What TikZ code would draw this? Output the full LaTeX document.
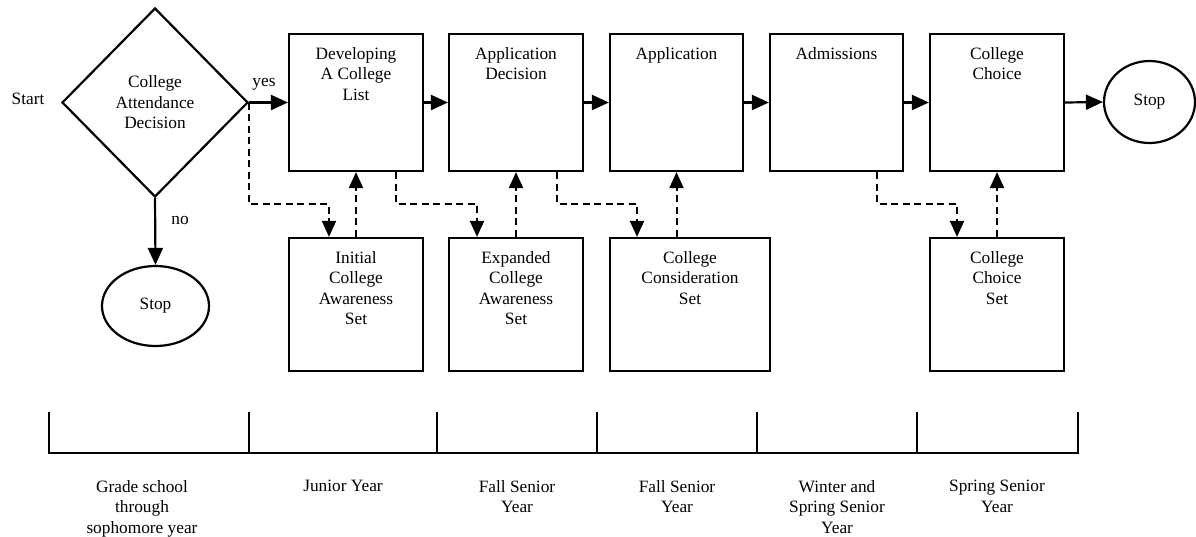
\documentclass[tikz,border=0pt]{standalone}
\usepackage{fontspec}
\setmainfont{Liberation Serif}
\usetikzlibrary{arrows.meta,shapes.geometric}
\begin{document}
\begin{tikzpicture}[x=1pt,y=-1pt,
  every node/.style={font=\fontsize{17.3}{20.5}\selectfont},
  stage/.style={draw, line width=2.2pt, inner sep=0pt, minimum width=134pt, minimum height=137pt},
  setbox/.style={draw, line width=2.2pt, inner sep=0pt, minimum width=134pt, minimum height=133pt},
  txt/.style={anchor=north, inner sep=0pt, align=center, yshift=-14pt},
  stopnode/.style={draw, ellipse, line width=2.2pt, inner sep=0pt},
  flow/.style={line width=2.2pt, -{Triangle[length=17pt,width=15pt]}},
  dflow/.style={line width=2pt, dash pattern=on 7pt off 4.5pt, -{Triangle[length=16pt,width=14pt]}},
  tl/.style={line width=2.2pt},
  plain/.style={inner sep=0pt, align=center},
]
\useasboundingbox (0,0) rectangle (1196,536);

% start and decision
\node[plain, anchor=base] (start) at (28,104) {Start};
\node[draw, diamond, line width=2.2pt, inner sep=0pt, minimum width=186pt, minimum height=189pt, align=center] (dia) at (155,102.5) {College\\Attendance\\Decision};
\node[stopnode, minimum width=107pt, minimum height=80pt] (stopA) at (155.5,306) {Stop};
\node[plain, anchor=base] (no) at (180,224) {no};
\node[plain, anchor=base] (yes) at (264,86) {yes};

% top row stages
\node[stage, label={[txt]north:Developing\\A College\\List}] (dev) at (356,102.5) {};
\node[stage, label={[txt]north:Application\\Decision}] (appdec) at (516,102.5) {};
\node[stage, minimum width=133pt, label={[txt]north:Application}] (app) at (676.5,102.5) {};
\node[stage, minimum width=133pt, label={[txt]north:Admissions}] (adm) at (836.5,102.5) {};
\node[stage, label={[txt]north:College\\Choice}] (choice) at (997,102.5) {};
\node[stopnode, minimum width=91pt, minimum height=82pt] (stopB) at (1149.5,102) {Stop};

% bottom row sets
\node[setbox, label={[txt]north:Initial\\College\\Awareness\\Set}] (ica) at (356,304.5) {};
\node[setbox, label={[txt]north:Expanded\\College\\Awareness\\Set}] (eca) at (516,304.5) {};
\node[setbox, minimum width=160pt, label={[txt]north:College\\Consideration\\Set}] (cca) at (690,304.5) {};
\node[setbox, label={[txt]north:College\\Choice\\Set}] (ccs) at (997,304.5) {};

% solid flow
\draw[flow] (dia.south) -- (stopA.north);
\draw[flow] (dia.east) -- (dev.west);
\draw[flow] (dev.east) -- (appdec.west);
\draw[flow] (appdec.east) -- (app.west);
\draw[flow] (app.east) -- (adm.west);
\draw[flow] (adm.east) -- (choice.west);
\draw[flow] (choice.east) -- (stopB.west);

% dashed connectors
\coordinate (j1) at (329,204);
\coordinate (j2) at (477,204);
\coordinate (j3) at (637,204);
\coordinate (j4) at (957,204);
\draw[dflow] (dia.east) |- (j1) -- (j1 |- ica.north);
\draw[dflow] (ica.north) -- (dev.south);
\draw[dflow] ([xshift=40pt]dev.south) |- (j2) -- (j2 |- eca.north);
\draw[dflow] (eca.north) -- (appdec.south);
\draw[dflow] ([xshift=41pt]appdec.south) |- (j3) -- (j3 |- cca.north);
\draw[dflow] (app.south |- cca.north) -- (app.south);
\draw[dflow] ([xshift=40.5pt]adm.south) |- (j4) -- (j4 |- ccs.north);
\draw[dflow] (ccs.north) -- (choice.south);

% timeline
\coordinate (t0) at (49,453);   \coordinate (u0) at (49,412);
\coordinate (t1) at (249,453);  \coordinate (u1) at (249,412);
\coordinate (t2) at (437,453);  \coordinate (u2) at (437,412);
\coordinate (t3) at (597,453);  \coordinate (u3) at (597,412);
\coordinate (t4) at (757,453);  \coordinate (u4) at (757,412);
\coordinate (t5) at (917,453);  \coordinate (u5) at (917,412);
\coordinate (t6) at (1078,453); \coordinate (u6) at (1078,412);
\draw[tl] (u0) -- (t0) -- (t6) -- (u6);
\draw[tl] (u1) -- (t1);
\draw[tl] (u2) -- (t2);
\draw[tl] (u3) -- (t3);
\draw[tl] (u4) -- (t4);
\draw[tl] (u5) -- (t5);

\node[plain, anchor=north] (p0) at (142,480) {Grade school\\through\\sophomore year};
\node[plain, anchor=north] (p1) at (343,480) {Junior Year};
\node[plain, anchor=north] (p2) at (517,480) {Fall Senior\\Year};
\node[plain, anchor=north] (p3) at (677,480) {Fall Senior\\Year};
\node[plain, anchor=north] (p4) at (837,480) {Winter and\\Spring Senior\\Year};
\node[plain, anchor=north] (p5) at (997,480) {Spring Senior\\Year};
\end{tikzpicture}
\end{document}
